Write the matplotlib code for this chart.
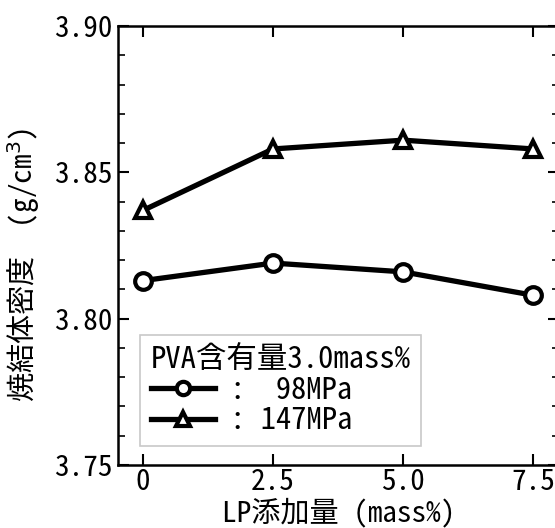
import numpy as np
import matplotlib
matplotlib.use('Agg')
import matplotlib.pyplot as plt
from matplotlib.ticker import MultipleLocator, FormatStrFormatter

plt.rcParams['font.family'] = ['Noto Sans Mono CJK JP', 'Noto Sans CJK JP', 'DejaVu Sans']

lp = [0, 2.5, 5.0, 7.5]
dens_98 = [3.813, 3.819, 3.816, 3.808]
dens_147 = [3.837, 3.858, 3.861, 3.858]
xtick_labels = ['0', '2.5', '5.0', '7.5']

fig = plt.figure(figsize=(5.55, 5.28), dpi=100)
ax = fig.add_axes([0.2126, 0.1193, 0.795, 0.8314])

ax.plot(lp, dens_98, color='black', lw=3.8, marker='o', ms=12,
        mfc='white', mec='black', mew=3.0, label=':  98MPa')
ax.plot(lp, dens_147, color='black', lw=3.8, marker='^', ms=12,
        mfc='white', mec='black', mew=3.0, label=': 147MPa')

ax.set_xlim(-0.48, 8.0)
ax.set_ylim(3.75, 3.90)
ax.set_xticks(lp)
ax.set_xticklabels(xtick_labels)
ax.yaxis.set_major_locator(MultipleLocator(0.05))
ax.yaxis.set_minor_locator(MultipleLocator(0.01))
ax.yaxis.set_major_formatter(FormatStrFormatter('%.2f'))

ax.tick_params(axis='both', which='major', direction='in', length=8, width=1.5,
               labelsize=21, top=True, right=True, pad=4)
ax.tick_params(axis='x', which='major', pad=2)
ax.tick_params(axis='y', which='minor', direction='in', length=5, width=1.2, right=True)
for s in ax.spines.values():
    s.set_linewidth(1.8)

ax.set_xlabel('LP添加量 (mass%)', fontsize=21, labelpad=1)
ax.set_ylabel('焼結体密度　(g/cm$^3$)', fontsize=21)
ax.yaxis.set_label_coords(-0.172, 0.457)

leg = ax.legend(loc='lower left', bbox_to_anchor=(0.05, 0.043), title='PVA含有量3.0mass%',
                fontsize=22, title_fontsize=22, fancybox=False, frameon=True,
                edgecolor='#bbbbbb', handlelength=2.1, borderpad=0.35, markerscale=0.8,
                labelspacing=0.05, handletextpad=0.5, borderaxespad=0)
leg._legend_box.align = 'left'
leg.get_frame().set_linewidth(1.2)

fig.savefig('out.png', dpi=100)
